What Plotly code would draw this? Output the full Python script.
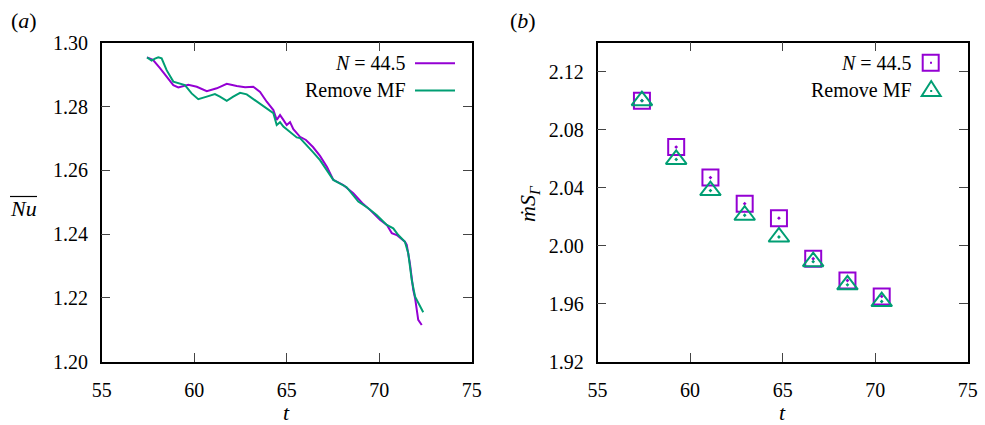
import plotly.graph_objects as go

# ---------------- data ----------------
# panel (a): mean Nusselt number vs time
t_n445 = [57.45, 57.77, 58.15, 58.51, 58.87, 59.14, 59.41, 59.68, 60.14, 60.68, 61.22, 61.76,
          62.30, 62.75, 63.19, 63.56, 63.92, 64.28, 64.46, 64.64, 64.82, 65.00, 65.18, 65.36,
          65.72, 66.04, 66.42, 66.80, 67.18, 67.52, 68.06, 68.60, 69.14, 69.50, 70.04, 70.41,
          70.68, 70.95, 71.39, 71.49, 71.66, 71.84, 71.94, 72.11, 72.30]
nu_n445 = [1.2954, 1.2946, 1.2920, 1.2893, 1.2867, 1.2860, 1.2864, 1.2868, 1.2862, 1.2848, 1.2857, 1.2871,
           1.2864, 1.2860, 1.2862, 1.2846, 1.2815, 1.2789, 1.2758, 1.2773, 1.2758, 1.2742, 1.2751, 1.2729,
           1.2705, 1.2695, 1.2673, 1.2645, 1.2610, 1.2570, 1.2554, 1.2528, 1.2494, 1.2476, 1.2445, 1.2429,
           1.2403, 1.2397, 1.2376, 1.2366, 1.2308, 1.2225, 1.2199, 1.2131, 1.2115]

t_rmf = [57.45, 57.70, 57.88, 58.06, 58.24, 58.51, 58.87, 59.23, 59.50, 59.86, 60.22, 60.68,
         61.12, 61.39, 61.76, 62.11, 62.48, 62.84, 63.38, 63.92, 64.28, 64.46, 64.64, 64.82,
         65.18, 65.54, 65.72, 66.04, 66.42, 66.80, 67.18, 67.52, 68.24, 68.87, 69.41, 69.86,
         70.41, 70.76, 71.03, 71.39, 71.57, 71.76, 71.94, 72.16, 72.38]
nu_rmf = [1.2954, 1.2944, 1.2950, 1.2954, 1.2951, 1.2914, 1.2878, 1.2873, 1.2867, 1.2841, 1.2823, 1.2831,
          1.2839, 1.2831, 1.2818, 1.2831, 1.2843, 1.2838, 1.2815, 1.2794, 1.2779, 1.2742, 1.2751, 1.2737,
          1.2721, 1.2703, 1.2701, 1.2682, 1.2657, 1.2632, 1.2601, 1.2570, 1.2547, 1.2502, 1.2481, 1.2460,
          1.2429, 1.2418, 1.2397, 1.2376, 1.2340, 1.2256, 1.2204, 1.2178, 1.2155]

# panel (b): m-dot S_Gamma vs time
t_b = [57.4, 59.25, 61.1, 62.95, 64.8, 66.65, 68.5, 70.35]
ms_n445 = [2.100, 2.068, 2.047, 2.029, 2.019, 1.991, 1.976, 1.965]
ms_rmf = [2.100, 2.0595, 2.038, 2.021, 2.006, 1.989, 1.973, 1.9615]

x_ticks = [55, 60, 65, 70, 75]
y_ticks_a = [1.20, 1.22, 1.24, 1.26, 1.28, 1.30]
y_ticks_b = [1.92, 1.96, 2.00, 2.04, 2.08, 2.12]

series_names = ["<i>N</i> = 44.5", "Remove MF"]
colors = ["#9400D3", "#009E73"]

# ---------------- figure ----------------
W, H = 985, 425
FONT = "'Liberation Serif', 'DejaVu Serif', serif"

def px(x):
    return x / W

def py(y):
    return 1 - y / H

fig = go.Figure()

fig.add_trace(go.Scatter(x=t_n445, y=nu_n445, mode="lines", name=series_names[0],
                         line=dict(color=colors[0], width=2), xaxis="x", yaxis="y"))
fig.add_trace(go.Scatter(x=t_rmf, y=nu_rmf, mode="lines", name=series_names[1],
                         line=dict(color=colors[1], width=2), xaxis="x", yaxis="y"))

fig.add_trace(go.Scatter(x=t_b, y=ms_n445, mode="markers", name=series_names[0],
                         marker=dict(symbol="square-open-dot", size=16, color=colors[0],
                                     line=dict(width=2, color=colors[0])),
                         xaxis="x2", yaxis="y2"))
fig.add_trace(go.Scatter(x=t_b, y=ms_rmf, mode="markers", name=series_names[1],
                         marker=dict(symbol="triangle-up-open-dot", size=18, color=colors[1],
                                     line=dict(width=2, color=colors[1])),
                         xaxis="x2", yaxis="y2"))

axis_common = dict(
    showgrid=False, zeroline=False, showline=True, linecolor="black", linewidth=1.5,
    mirror="allticks", ticks="inside", ticklen=9, tickwidth=1, tickcolor="#444",
    tickfont=dict(family=FONT, size=20, color="black"), automargin=False,
)

yd = [py(361.7), py(42.7)]
fig.update_layout(
    template="none",
    width=W, height=H,
    margin=dict(l=0, r=0, t=0, b=0, autoexpand=False),
    paper_bgcolor="white", plot_bgcolor="white",
    font=dict(family=FONT, size=20, color="black"),
    showlegend=False,
    xaxis=dict(domain=[px(101.7), px(471.7)], range=[55, 75], tickvals=x_ticks,
               ticktext=[str(v) for v in x_ticks], anchor="y", ticklabelstandoff=10, **axis_common),
    yaxis=dict(domain=yd, range=[1.20, 1.30], tickvals=y_ticks_a,
               ticktext=[f"{v:.2f}" for v in y_ticks_a], anchor="x", ticklabelstandoff=8, **axis_common),
    xaxis2=dict(domain=[px(597.5), px(967.8)], range=[55, 75], tickvals=x_ticks,
                ticktext=[str(v) for v in x_ticks], anchor="y2", ticklabelstandoff=10, **axis_common),
    yaxis2=dict(domain=yd, range=[1.92, 2.14], tickvals=y_ticks_b,
                ticktext=[f"{v:.2f}" for v in y_ticks_b], anchor="x2", ticklabelstandoff=8, **axis_common),
)

ann_font = dict(family=FONT, size=20, color="black")
big_font = dict(family=FONT, size=22, color="black")
annotations = [
    dict(text="(<i>a</i>)", x=px(24), y=py(20), font=big_font),
    dict(text="(<i>b</i>)", x=px(523), y=py(20), font=big_font),
    dict(text="<i>t</i>", x=px(286.7), y=py(412), font=big_font),
    dict(text="<i>t</i>", x=px(782.7), y=py(412), font=big_font),
    dict(text="<i>Nu</i>", x=px(23), y=py(208), font=big_font),
    dict(text="<i>ṁS</i><sub><i>Γ</i></sub>", x=px(529), y=py(204), textangle=-90, font=big_font),
    # legends
    dict(text=series_names[0], x=px(408), y=py(63.3), xanchor="right", font=ann_font),
    dict(text=series_names[1], x=px(408), y=py(90.5), xanchor="right", font=ann_font),
    dict(text=series_names[0], x=px(914), y=py(62.7), xanchor="right", font=ann_font),
    dict(text=series_names[1], x=px(914), y=py(90), xanchor="right", font=ann_font),
]
for a in annotations:
    a.setdefault("xref", "paper")
    a.setdefault("yref", "paper")
    a.setdefault("xanchor", "center")
    a.setdefault("yanchor", "middle")
    a.setdefault("showarrow", False)
fig.update_layout(annotations=annotations)

shapes = [
    # overline on Nu
    dict(type="line", x0=px(10), x1=px(37), y0=py(196.5), y1=py(196.5), line=dict(color="black", width=1.2)),
    # legend keys panel (a)
    dict(type="line", x0=px(415), x1=px(455), y0=py(63.3), y1=py(63.3), line=dict(color=colors[0], width=2)),
    dict(type="line", x0=px(415), x1=px(455), y0=py(90.5), y1=py(90.5), line=dict(color=colors[1], width=2)),
    # legend keys panel (b)
    dict(type="rect", x0=px(922.7), x1=px(938.7), y0=py(70.7), y1=py(54.7),
         line=dict(color=colors[0], width=2)),
    dict(type="rect", x0=px(930), x1=px(932), y0=py(63.7), y1=py(61.7),
         line=dict(width=0), fillcolor=colors[0]),
    dict(type="path",
         path=f"M {px(921.7)},{py(96)} L {px(940.7)},{py(96)} L {px(931.2)},{py(81)} Z",
         line=dict(color=colors[1], width=2)),
    dict(type="rect", x0=px(930.2), x1=px(932.2), y0=py(92), y1=py(90),
         line=dict(width=0), fillcolor=colors[1]),
]
for s in shapes:
    s["xref"] = "paper"
    s["yref"] = "paper"
fig.update_layout(shapes=shapes)

fig.write_html("out.html", config={"displayModeBar": False},
               post_script="document.body.style.margin='0';")
